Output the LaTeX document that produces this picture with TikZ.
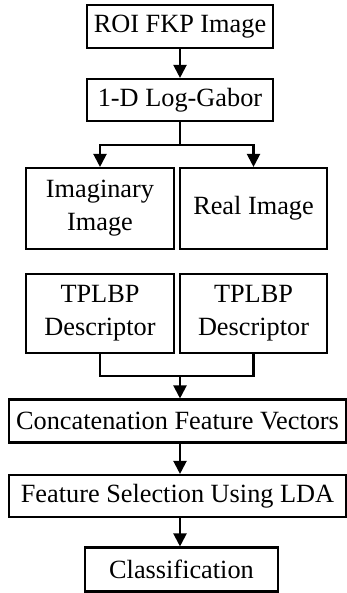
\documentclass[tikz,border=0pt]{standalone}
\usepackage{fontspec}
\setmainfont{Liberation Serif}
\usetikzlibrary{arrows.meta}
\usetikzlibrary{positioning}
\tikzset{block/.style={draw,line width=2.1pt,rectangle,align=center,inner sep=0pt,font=\fontsize{26.3}{33}\selectfont}}
\tikzset{flow/.style={line width=2.1pt,-{Triangle[width=13pt,length=13pt]}}}

\begin{document}
\begin{tikzpicture}[x=1pt,y=-1pt]
	\useasboundingbox (0,0) rectangle (347,593);
	\node[block,minimum width=186pt,minimum height=43pt] (roi) at (180,26.5) {ROI FKP Image};
	\node[block,minimum width=186pt,minimum height=42pt] (gabor) at (180,100) {1-D Log-Gabor};
	\node[block,minimum width=148pt,minimum height=81pt] (imag) at (100,208.5) {Imaginary\\Image};
	\node[block,minimum width=147pt,minimum height=81pt] (real) at (253.5,208.5) {Real Image};
	\node[block,minimum width=148pt,minimum height=79pt] (tpla) at (100,313.5) {TPLBP\\Descriptor};
	\node[block,minimum width=147pt,minimum height=79pt] (tplb) at (253.5,313.5) {TPLBP\\Descriptor};
	\node[block,minimum width=337pt,minimum height=43pt] (concat) at (177.5,421) {Concatenation Feature Vectors};
	\node[block,minimum width=337pt,minimum height=42pt] (lda) at (177.5,496) {Feature Selection Using LDA};
	\node[block,minimum width=193pt,minimum height=44pt] (cls) at (181.5,569.5) {Classification};
	\coordinate (split) at (180,145);
	\coordinate (merge) at (180,376);
	\draw[flow] (roi) -- (gabor);
	\draw[line width=2.1pt] (gabor.south) -- (split);
	\draw[flow] (split) -| (imag.north);
	\draw[flow] (split) -| (real.north);
	\draw[line width=2.1pt] (tpla.south) |- (merge) -| (tplb.south);
	\draw[flow] (merge) -- (merge |- concat.north);
	\draw[flow] (roi |- concat.south) -- (roi |- lda.north);
	\draw[flow] (roi |- lda.south) -- (roi |- cls.north);
\end{tikzpicture}
\end{document}
